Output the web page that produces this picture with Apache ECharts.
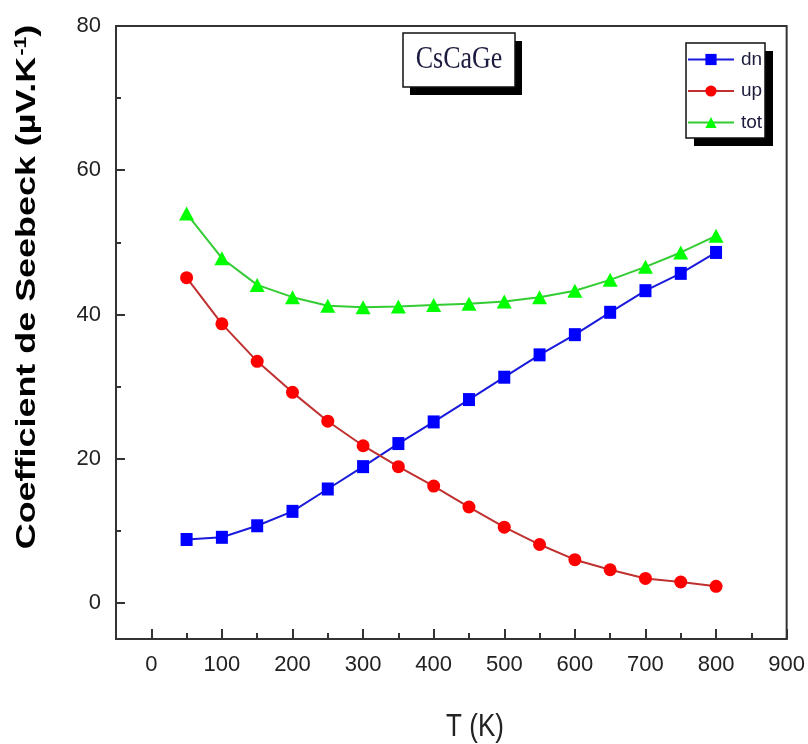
<!DOCTYPE html>
<html>
<head>
<meta charset="utf-8">
<script src="https://cdn.jsdelivr.net/npm/echarts@6/dist/echarts.min.js"></script>
<style>
  html, body { margin: 0; padding: 0; background: #fff; }
  #chart { width: 808px; height: 744px; }
</style>
</head>
<body>
<div id="chart"></div>
<script>
// Temperatures (K)
const temperature = [50, 100, 150, 200, 250, 300, 350, 400, 450, 500, 550, 600, 650, 700, 750, 800];
// Seebeck coefficient (µV/K) for spin-down, spin-up and total
const dn  = [8.8, 9.1, 10.7, 12.7, 15.8, 18.9, 22.1, 25.1, 28.2, 31.3, 34.4, 37.2, 40.3, 43.3, 45.7, 48.6];
const up  = [45.1, 38.7, 33.5, 29.2, 25.2, 21.8, 18.9, 16.2, 13.3, 10.5, 8.1, 6.0, 4.6, 3.4, 2.9, 2.3];
const tot = [54.0, 47.8, 44.1, 42.4, 41.2, 41.0, 41.1, 41.3, 41.5, 41.8, 42.4, 43.3, 44.8, 46.6, 48.6, 50.9];

// Axis ticks
const xMajorTicks = [0, 100, 200, 300, 400, 500, 600, 700, 800, 900];
const xMinorTicks = [50, 150, 250, 350, 450, 550, 650, 750, 850];
const yMajorTicks = [0, 20, 40, 60, 80];
const yMinorTicks = [10, 30, 50, 70];

const seriesNames = ['dn', 'up', 'tot'];

const chart = echarts.init(document.getElementById('chart'), null, { renderer: 'canvas' });

const gridBox = { left: 116, right: 21, top: 26, bottom: 105 };
const tickFont = { fontFamily: 'Liberation Sans, Arial, sans-serif', fontSize: 22, color: '#222' };

function pairs(ys) { return temperature.map((t, i) => [t, ys[i]]); }

const option = {
  backgroundColor: '#fff',
  animation: false,
  grid: Object.assign({ show: true, borderColor: '#333', borderWidth: 2, backgroundColor: 'transparent', containLabel: false }, gridBox),
  xAxis: [
    {
      type: 'value', min: -50, max: 900,
      axisLine: { show: true, onZero: false, lineStyle: { color: '#333', width: 2 } },
      axisTick: { show: true, inside: true, length: 10, customValues: xMajorTicks, lineStyle: { color: '#333', width: 2 } },
      axisLabel: Object.assign({ customValues: xMajorTicks, margin: 15 }, tickFont),
      splitLine: { show: false }
    },
    {
      type: 'value', min: -50, max: 900, position: 'bottom', gridIndex: 0,
      axisLine: { show: false, onZero: false },
      axisTick: { show: true, inside: true, length: 6, customValues: xMinorTicks, lineStyle: { color: '#333', width: 2 } },
      axisLabel: { show: false },
      splitLine: { show: false }
    }
  ],
  yAxis: [
    {
      type: 'value', min: -5, max: 80,
      axisLine: { show: true, onZero: false, lineStyle: { color: '#333', width: 2 } },
      axisTick: { show: true, inside: true, length: 9, customValues: yMajorTicks, lineStyle: { color: '#333', width: 2 } },
      axisLabel: Object.assign({ customValues: yMajorTicks, margin: 15 }, tickFont),
      splitLine: { show: false }
    },
    {
      type: 'value', min: -5, max: 80, position: 'left', gridIndex: 0,
      axisLine: { show: false, onZero: false },
      axisTick: { show: true, inside: true, length: 5, customValues: yMinorTicks, lineStyle: { color: '#333', width: 2 } },
      axisLabel: { show: false },
      splitLine: { show: false }
    }
  ],
  legend: {
    orient: 'vertical', left: 687, top: 50, padding: 0,
    itemWidth: 46, itemHeight: 14, itemGap: 12.5,
    data: seriesNames,
    textStyle: { fontFamily: 'Liberation Sans, Arial, sans-serif', fontSize: 19, color: '#1c1c3c', padding: [0, 0, 0, 2] },
    z: 10
  },
  series: [
    {
      name: seriesNames[0], type: 'line', data: pairs(dn),
      symbol: 'rect', symbolSize: [12, 13],
      lineStyle: { color: '#1a1adc', width: 2 },
      itemStyle: { color: '#0000ff' }
    },
    {
      name: seriesNames[1], type: 'line', data: pairs(up),
      symbol: 'circle', symbolSize: 13,
      lineStyle: { color: '#c03030', width: 2 },
      itemStyle: { color: '#ff0000' }
    },
    {
      name: seriesNames[2], type: 'line', data: pairs(tot),
      symbol: 'triangle', symbolSize: [15, 14],
      lineStyle: { color: '#33cc33', width: 2 },
      itemStyle: { color: '#00ff00' }
    }
  ],
  graphic: [
    // legend frame with drop shadow
    { type: 'rect', shape: { x: 694, y: 51, width: 79, height: 95 }, style: { fill: '#000' }, z: 1 },
    { type: 'rect', shape: { x: 686, y: 43, width: 79, height: 95 }, style: { fill: '#fff', stroke: '#111', lineWidth: 1.5 }, z: 2 },
    // compound label box with drop shadow
    { type: 'rect', shape: { x: 410, y: 41, width: 112, height: 54 }, style: { fill: '#000' }, z: 1 },
    { type: 'rect', shape: { x: 403, y: 33, width: 112, height: 54 }, style: { fill: '#fff', stroke: '#111', lineWidth: 1.5 }, z: 2 },
    {
      type: 'text', x: 459, y: 60, z: 3, scaleY: 1.2,
      style: { text: 'CsCaGe', fontFamily: 'Liberation Serif, Times New Roman, serif', fontSize: 26, fill: '#1c1c40', align: 'center', verticalAlign: 'middle' }
    },
    // axis titles
    {
      type: 'text', x: 475, y: 727, z: 3, scaleY: 1.2,
      style: { text: 'T (K)', fontFamily: 'Liberation Sans, Arial, sans-serif', fontSize: 26, fill: '#222', align: 'center', verticalAlign: 'middle' }
    },
    {
      type: 'text', x: 28, y: 287, rotation: Math.PI / 2, scaleX: 1.33, z: 3,
      style: {
        text: '{a|Coefficient de Seebeck (µV.K}{s|-1}{a|)}',
        align: 'center', verticalAlign: 'middle',
        rich: {
          a: { fontFamily: 'Liberation Sans, Arial, sans-serif', fontWeight: 'bold', fontSize: 27, color: '#222' },
          s: { fontFamily: 'Liberation Sans, Arial, sans-serif', fontWeight: 'bold', fontSize: 16, color: '#222', padding: [0, 0, 13, 1] }
        }
      }
    }
  ]
};

chart.setOption(option);
</script>
</body>
</html>
